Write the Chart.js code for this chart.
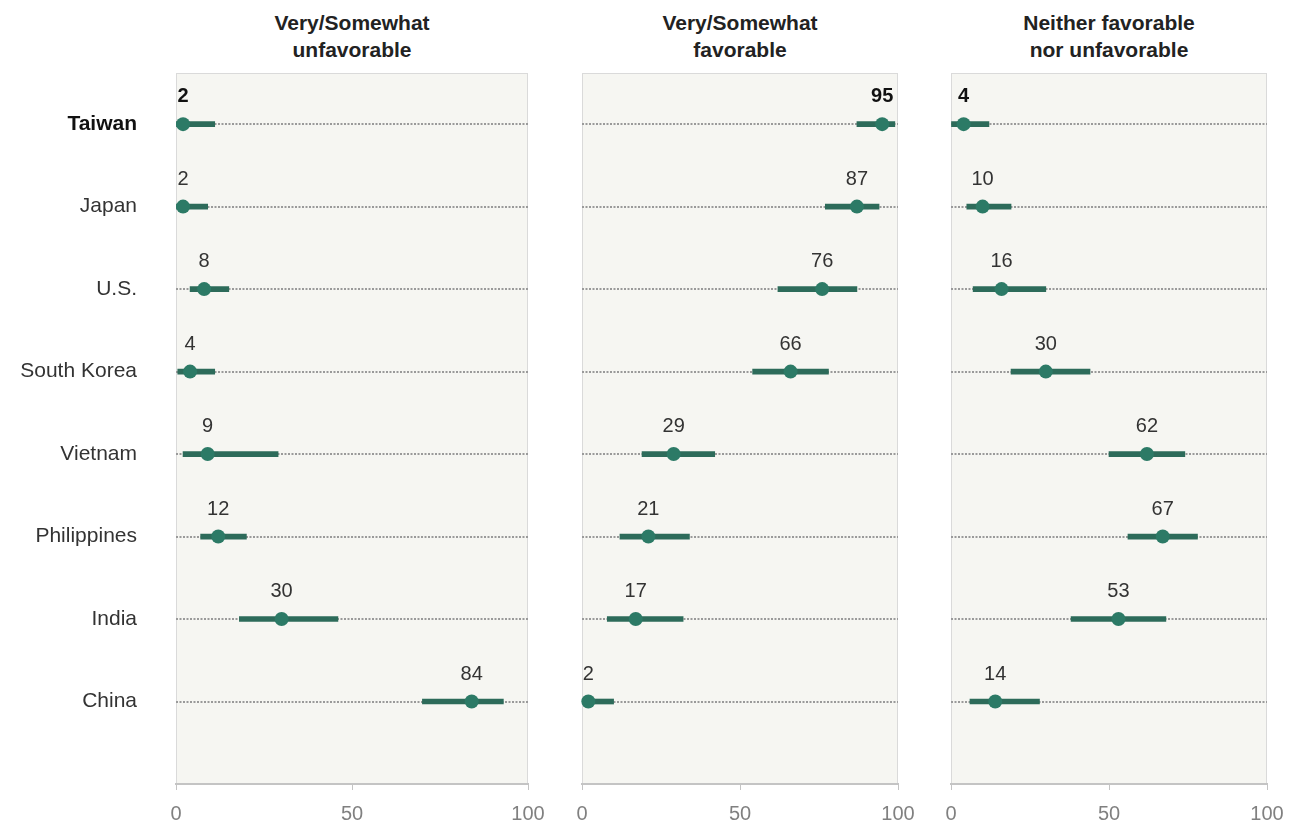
<!DOCTYPE html>
<html>
<head>
<meta charset="utf-8">
<script src="https://cdn.jsdelivr.net/npm/chart.js@4/dist/chart.umd.min.js"></script>
<style>
  body { margin: 0; background: #fff; font-family: "Liberation Sans", Arial, sans-serif; }
  #wrap { position: relative; width: 1297px; height: 827px; }
  .panel { position: absolute; top: 0; height: 827px; }
  .title { position: absolute; top: 9px; width: 300px; text-align: center; font-weight: bold;
           font-size: 21px; line-height: 27px; color: #222; }
</style>
</head>
<body>
<div id="wrap">
  <div class="title" style="left:202px">Very/Somewhat<br>unfavorable</div>
  <div class="title" style="left:590px">Very/Somewhat<br>favorable</div>
  <div class="title" style="left:959px">Neither favorable<br>nor unfavorable</div>
  <div class="panel" style="left:0px;width:560px"><canvas id="unfavChart"></canvas></div>
  <div class="panel" style="left:550px;width:380px"><canvas id="favChart"></canvas></div>
  <div class="panel" style="left:917px;width:380px"><canvas id="neitherChart"></canvas></div>
</div>
<script>
// بيانات المخطط
var countries = ['Taiwan', 'Japan', 'U.S.', 'South Korea', 'Vietnam', 'Philippines', 'India', 'China'];

var unfavValues = [2, 2, 8, 4, 9, 12, 30, 84];
var unfavLow    = [0, 0, 4, 0.5, 2, 7, 18, 70];
var unfavHigh   = [11, 9, 15, 11, 29, 20, 46, 93];

var favValues = [95, 87, 76, 66, 29, 21, 17, 2];
var favLow    = [87, 77, 62, 54, 19, 12, 8, 0];
var favHigh   = [99, 94, 87, 78, 42, 34, 32, 10];

var neitherValues = [4, 10, 16, 30, 62, 67, 53, 14];
var neitherLow    = [0, 5, 7, 19, 50, 56, 38, 6];
var neitherHigh   = [12, 19, 30, 44, 74, 78, 68, 28];

var xTicks = [0, 50, 100];

var dotColor = '#2c7a66';
var rangeColor = '#2d6b5a';
var fontFamily = '"Liberation Sans", Arial, sans-serif';

// خلفية اللوحة
var panelBackground = {
    id: 'panelBackground',
    beforeDraw: function(chart) {
        var a = chart.chartArea;
        var ctx = chart.ctx;
        ctx.save();
        ctx.fillStyle = '#f6f6f2';
        ctx.fillRect(a.left, a.top, a.right - a.left, a.bottom - a.top);
        ctx.strokeStyle = '#dadada';
        ctx.lineWidth = 1;
        ctx.strokeRect(a.left + 0.5, a.top + 0.5, a.right - a.left - 1, a.bottom - a.top);
        ctx.restore();
    }
};

// تسميات القيم فوق النقاط
var valueLabels = {
    id: 'valueLabels',
    afterDatasetsDraw: function(chart) {
        var ctx = chart.ctx;
        var meta = chart.getDatasetMeta(0);
        var values = chart.data.datasets[0].data;
        ctx.save();
        ctx.textAlign = 'center';
        ctx.textBaseline = 'alphabetic';
        meta.data.forEach(function(pt, i) {
            ctx.font = (i === 0 ? 'bold ' : '') + '20px ' + fontFamily;
            ctx.fillStyle = i === 0 ? '#111' : '#333';
            ctx.fillText(values[i].x, pt.x, pt.y - 22);
        });
        ctx.restore();
    }
};

function createPanel(id, values, low, high, axisWidth, padRight, showLabels) {
    var ctx = document.getElementById(id);
    if (!ctx) return;

    var chart = new Chart(ctx, {
        type: 'bar',
        data: {
            datasets: [{
                type: 'scatter',
                data: values.map((v, i) => ({ x: v, y: i })),
                pointRadius: 7,
                pointHoverRadius: 7,
                pointBackgroundColor: dotColor,
                pointBorderWidth: 0,
                clip: false
            }, {
                type: 'bar',
                indexAxis: 'y',
                data: low.map((v, i) => ({ x: [v, high[i]], y: i })),
                backgroundColor: rangeColor,
                barThickness: 5,
                borderWidth: 0,
                clip: false
            }]
        },
        options: {
            responsive: true,
            maintainAspectRatio: false,
            animation: false,
            layout: {
                padding: { top: 73, right: padRight, left: 0, bottom: 0 }
            },
            scales: {
                x: {
                    type: 'linear',
                    min: 0,
                    max: 100,
                    offset: false,
                    afterBuildTicks: function(scale) {
                        scale.ticks = xTicks.map(v => ({ value: v }));
                    },
                    afterFit: function(scale) { scale.height = 43; },
                    grid: {
                        offset: false,
                        drawOnChartArea: false,
                        drawTicks: true,
                        tickLength: 6,
                        color: '#c4c4c4',
                        lineWidth: 1
                    },
                    border: { display: true, color: '#c4c4c4', width: 2 },
                    ticks: {
                        padding: 12,
                        color: '#808080',
                        font: { family: fontFamily, size: 20 }
                    }
                },
                y: {
                    type: 'linear',
                    reverse: true,
                    min: -0.62,
                    max: 8,
                    offset: false,
                    afterBuildTicks: function(scale) {
                        scale.ticks = countries.map((c, i) => ({ value: i }));
                    },
                    afterFit: function(scale) {
                        scale.width = axisWidth;
                        scale.paddingTop = 0;
                        scale.paddingBottom = 0;
                    },
                    grid: {
                        offset: false,
                        drawTicks: false,
                        color: '#9a9a9a',
                        lineWidth: 2
                    },
                    border: { display: false, dash: [2, 1.5] },
                    ticks: {
                        display: showLabels,
                        padding: 39,
                        color: function(c) { return c.index === 0 ? '#111' : '#333'; },
                        font: function(c) {
                            return { family: fontFamily, size: 21, weight: c.index === 0 ? 'bold' : 'normal' };
                        },
                        callback: function(value) { return countries[value]; }
                    }
                }
            },
            plugins: {
                legend: { display: false },
                tooltip: { enabled: false }
            }
        },
        plugins: [panelBackground, valueLabels]
    });
}

createPanel('unfavChart', unfavValues, unfavLow, unfavHigh, 176, 32, true);
createPanel('favChart', favValues, favLow, favHigh, 32, 32, false);
createPanel('neitherChart', neitherValues, neitherLow, neitherHigh, 34, 30, false);
</script>
</body>
</html>
